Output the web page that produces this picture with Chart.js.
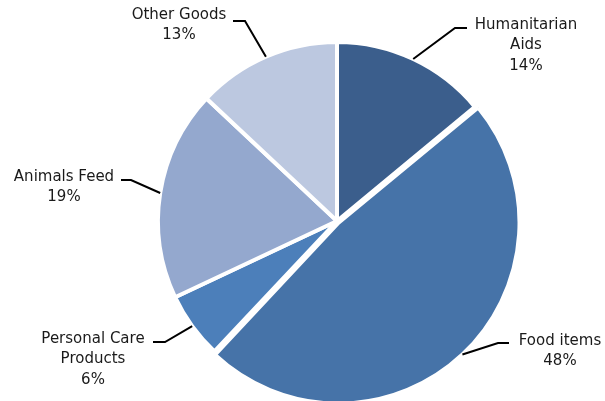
<!DOCTYPE html>
<html lang="en">
<head>
  <meta charset="UTF-8">
  <title>Goods Share</title>
  <script src="https://cdn.jsdelivr.net/npm/chart.js@4.4.0/dist/chart.umd.min.js"></script>
  <style>
    html, body {
      margin: 0;
      padding: 0;
      background: #ffffff;
    }
    #wrap {
      position: relative;
      width: 605px;
      height: 401px;
    }
  </style>
</head>
<body>
  <div id="wrap">
    <canvas id="pieChart" width="605" height="401"></canvas>
  </div>

  <script>
    // Chart data
    const categories = ['Humanitarian Aids', 'Food items', 'Personal Care Products', 'Animals Feed', 'Other Goods'];
    const shares = [14, 48, 6, 19, 13];
    const labelLines = [
      ['Humanitarian', 'Aids', '14%'],
      ['Food items', '48%'],
      ['Personal Care', 'Products', '6%'],
      ['Animals Feed', '19%'],
      ['Other Goods', '13%']
    ];
    const sliceColors = ['#3b5e8c', '#4673a8', '#4c7fba', '#94a8ce', '#bcc8e0'];
    const sliceOffsets = [0, 9, 0, 0, 0];

    // Where each label sits: text centre, first line y, and the short flat part of its leader
    const labelLayout = [
      { x: 526, y: 25, hx1: 467, hx2: 455, hy: 28 },
      { x: 560, y: 341, hx1: 509, hx2: 498, hy: 343 },
      { x: 93, y: 339, hx1: 153, hx2: 165, hy: 342 },
      { x: 64, y: 177, hx1: 121, hx2: 131, hy: 180 },
      { x: 179, y: 15, hx1: 233, hx2: 245, hy: 21 }
    ];

    // Labels with leader lines, drawn after the slices
    const leaderLabels = {
      id: 'leaderLabels',
      afterDatasetsDraw(chart) {
        const ctx = chart.ctx;
        const arcs = chart.getDatasetMeta(0).data;
        ctx.save();
        ctx.strokeStyle = '#000000';
        ctx.lineWidth = 2;
        ctx.fillStyle = '#1a1a1a';
        ctx.font = '15px "DejaVu Sans", sans-serif';
        ctx.textAlign = 'center';
        ctx.textBaseline = 'middle';

        arcs.forEach((arc, i) => {
          const mid = (arc.startAngle + arc.endAngle) / 2;
          // same shift Chart.js applies to an offset slice
          const off = (sliceOffsets[i] || 0) / 4;
          const fix = 1 - Math.sin(Math.min(Math.PI, arc.endAngle - arc.startAngle));
          const shift = off + off * fix;
          const px = arc.x + Math.cos(mid) * (arc.outerRadius + shift);
          const py = arc.y + Math.sin(mid) * (arc.outerRadius + shift);
          const lay = labelLayout[i];

          ctx.beginPath();
          ctx.moveTo(lay.hx1, lay.hy);
          ctx.lineTo(lay.hx2, lay.hy);
          ctx.lineTo(px, py);
          ctx.stroke();

          labelLines[i].forEach((line, j) => {
            ctx.fillText(line, lay.x, lay.y + j * 20.5);
          });
        });
        ctx.restore();
      }
    };

    const ctx = document.getElementById('pieChart').getContext('2d');
    new Chart(ctx, {
      type: 'pie',
      data: {
        labels: categories,
        datasets: [{
          data: shares,
          backgroundColor: sliceColors,
          borderColor: '#ffffff',
          borderWidth: 4,
          offset: sliceOffsets
        }]
      },
      options: {
        responsive: false,
        animation: false,
        events: [],
        radius: 179,
        layout: {
          padding: { left: 69, top: 41, right: 0, bottom: 0 }
        },
        plugins: {
          legend: { display: false },
          tooltip: { enabled: false }
        }
      },
      plugins: [leaderLabels]
    });
  </script>
</body>
</html>
